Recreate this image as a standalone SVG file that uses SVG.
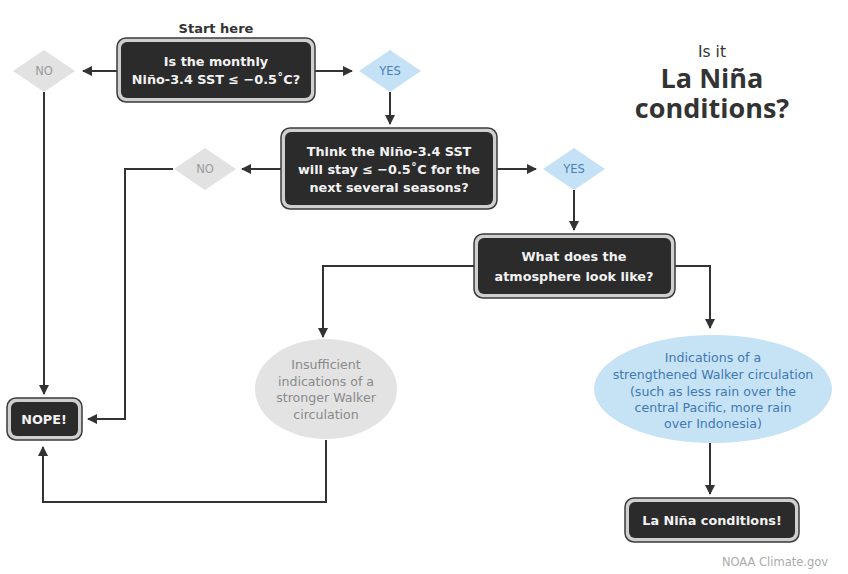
<svg xmlns="http://www.w3.org/2000/svg" width="848" height="574" viewBox="0 0 848 574">
<defs>
<marker id="ah" viewBox="0 0 10 10" refX="9" refY="5" markerWidth="5" markerHeight="5" orient="auto" markerUnits="strokeWidth">
<path d="M0,0 L10,5 L0,10 z" fill="#333"/>
</marker>
<style>
.ob{fill:#cfcfcf;stroke:#3a3a3a;stroke-width:1.5}
.ib{fill:#2b2b2b}
.bt{font-family:"DejaVu Sans","Noto Sans",sans-serif;font-weight:700;font-size:12.8px;fill:#f2f2f2;text-anchor:middle}
.gd{fill:#e2e2e2}
.bd{fill:#c4e1f5}
.gt{font-family:"DejaVu Sans","Noto Sans",sans-serif;font-size:11.5px;fill:#9a9a9a;text-anchor:middle}
.btx{font-family:"DejaVu Sans","Noto Sans",sans-serif;font-size:11.5px;fill:#4a7fb8;text-anchor:middle}
.ge{fill:#e3e3e3}
.be{fill:#c6e2f5}
.get{font-family:"DejaVu Sans","Noto Sans",sans-serif;font-size:12.6px;fill:#8a8a8a;text-anchor:middle}
.bet{font-family:"DejaVu Sans","Noto Sans",sans-serif;font-size:12.6px;fill:#4178b4;text-anchor:middle}
.c{fill:none;stroke:#333;stroke-width:2;marker-end:url(#ah)}
.ti{text-anchor:middle;fill:#333}
</style>
</defs>

<g id="title">
<text class="ti" x="712" y="57" font-family="DejaVu Sans, sans-serif" font-size="15.5" fill="#555">Is it</text>
<text class="ti" x="712" y="88" font-family="Open Sans, Noto Sans, sans-serif" font-size="27" font-weight="700">La Niña</text>
<text class="ti" x="712" y="118" font-family="Open Sans, Noto Sans, sans-serif" font-size="27" font-weight="700">conditions?</text>
</g>

<g id="start-label">
<text x="216" y="33" font-family="DejaVu Sans, sans-serif" font-weight="700" font-size="13" fill="#333" text-anchor="middle">Start here</text>
</g>

<g id="connectors">
<line class="c" x1="117" y1="71" x2="83" y2="71"/>
<line class="c" x1="315" y1="71" x2="352" y2="71"/>
<line class="c" x1="390" y1="92" x2="390" y2="124"/>
<line class="c" x1="44" y1="92" x2="44" y2="394"/>
<line class="c" x1="281" y1="169" x2="242" y2="169"/>
<line class="c" x1="497" y1="169" x2="536" y2="169"/>
<polyline class="c" points="173,169 125,169 125,419 88,419"/>
<line class="c" x1="574" y1="190" x2="574" y2="230"/>
<polyline class="c" points="474,266 323,266 323,337"/>
<polyline class="c" points="675,266 710,266 710,328"/>
<polyline class="c" points="326,440 326,502 43,502 43,447"/>
<line class="c" x1="710" y1="443" x2="710" y2="494"/>
</g>

<g id="q1">
<rect class="ob" x="117" y="38" width="198" height="64" rx="9"/>
<rect class="ib" x="121" y="42" width="190" height="56" rx="6"/>
<text class="bt" x="216" y="66">Is the monthly</text>
<text class="bt" x="216" y="84">Niño-3.4 SST ≤ −0.5˚C?</text>
</g>

<g id="no1">
<polygon class="gd" points="44,50 75,71 44,92 13,71"/>
<text class="gt" x="44" y="75">NO</text>
</g>

<g id="yes1">
<polygon class="bd" points="390,50 421,71 390,92 359,71"/>
<text class="btx" x="390" y="75">YES</text>
</g>

<g id="q2">
<rect class="ob" x="281" y="128" width="216" height="81" rx="9"/>
<rect class="ib" x="285" y="132" width="208" height="73" rx="6"/>
<text class="bt" x="389" y="156">Think the Niño-3.4 SST</text>
<text class="bt" x="389" y="174">will stay ≤ −0.5˚C for the</text>
<text class="bt" x="389" y="192">next several seasons?</text>
</g>

<g id="no2">
<polygon class="gd" points="205,148 236,169 205,190 174,169"/>
<text class="gt" x="205" y="173">NO</text>
</g>

<g id="yes2">
<polygon class="bd" points="574,148 605,169 574,190 543,169"/>
<text class="btx" x="574" y="173">YES</text>
</g>

<g id="q3">
<rect class="ob" x="474" y="234" width="201" height="64" rx="9"/>
<rect class="ib" x="478" y="238" width="193" height="56" rx="6"/>
<text class="bt" x="574" y="261">What does the</text>
<text class="bt" x="574" y="281">atmosphere look like?</text>
</g>

<g id="insufficient">
<ellipse class="ge" cx="326" cy="389" rx="71" ry="50"/>
<text class="get" x="326" y="369">Insufficient</text>
<text class="get" x="326" y="386">indications of a</text>
<text class="get" x="326" y="402">stronger Walker</text>
<text class="get" x="326" y="419">circulation</text>
</g>

<g id="strengthened">
<ellipse class="be" cx="713" cy="389" rx="119" ry="54"/>
<text class="bet" x="713" y="362">Indications of a</text>
<text class="bet" x="713" y="379">strengthened Walker circulation</text>
<text class="bet" x="713" y="396">(such as less rain over the</text>
<text class="bet" x="713" y="412">central Pacific, more rain</text>
<text class="bet" x="713" y="428">over Indonesia)</text>
</g>

<g id="nope">
<rect class="ob" x="7" y="398" width="75" height="42" rx="9"/>
<rect class="ib" x="11" y="402" width="67" height="34" rx="6"/>
<text class="bt" x="44" y="424">NOPE!</text>
</g>

<g id="lanina">
<rect class="ob" x="625" y="498" width="174" height="44" rx="9"/>
<rect class="ib" x="629" y="502" width="166" height="36" rx="6"/>
<text class="bt" x="712" y="525">La Niña conditions!</text>
</g>

<g id="credit">
<text x="775" y="566" font-family="DejaVu Sans, sans-serif" font-size="11.5" fill="#aaa" text-anchor="middle">NOAA Climate.gov</text>
</g>
</svg>
